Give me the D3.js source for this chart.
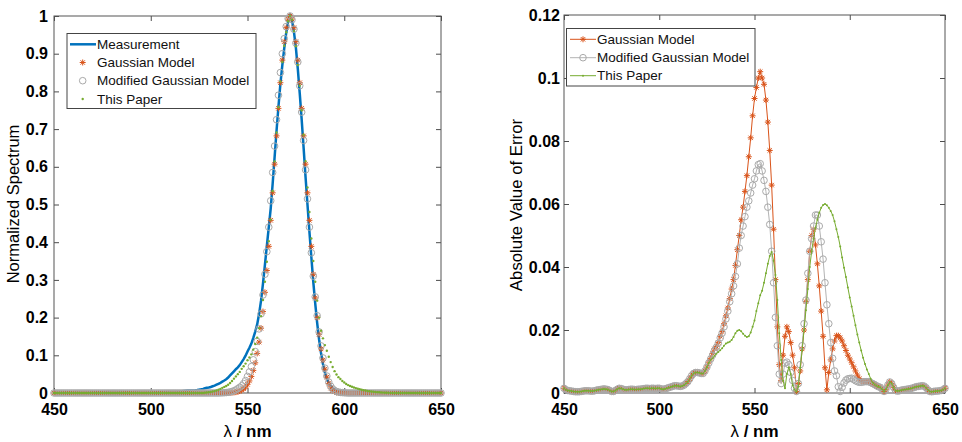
<!DOCTYPE html>
<html lang="en">
<head>
<meta charset="UTF-8">
<title>Spectrum models</title>
<script src="https://cdn.jsdelivr.net/npm/d3@7"></script>
<style>
  * { margin: 0; padding: 0; box-sizing: border-box; }
  body { background: #fff; font-family: Arial, "Liberation Sans", sans-serif; }
  .tick text { font-family: Arial, "Liberation Sans", sans-serif; font-weight: bold; font-size: 16px; fill: #000; }
  .tick line { stroke: #4d4d4d; }
  .legend text { font-size: 13.5px; fill: #111; }
</style>
</head>
<body>
<svg id="chart" width="962" height="442"></svg>
<script>
// sampling grid (nm)
const wavelength = d3.range(450, 651);
const xTicks = [450, 500, 550, 600, 650];
const spectrumTicks = [0, 0.1, 0.2, 0.3, 0.4, 0.5, 0.6, 0.7, 0.8, 0.9, 1];
const errorTicks = [0, 0.02, 0.04, 0.06, 0.08, 0.1, 0.12];

// ---- left panel: normalized spectrum ----
const measurement = [
  0.0015, 0.001, 0.0008, 0.0007, 0.0006, 0.0005, 0.0004, 0.0004, 0.0004, 0.0005,
  0.0006, 0.0007, 0.0007, 0.0007, 0.0006, 0.0006, 0.0007, 0.0009, 0.001, 0.0011,
  0.0012, 0.0013, 0.0012, 0.0011, 0.0008, 0.0005, 0.0005, 0.0008, 0.0012, 0.0015,
  0.0014, 0.0012, 0.001, 0.001, 0.0011, 0.0012, 0.0012, 0.0011, 0.0011, 0.0012,
  0.0012, 0.0013, 0.0014, 0.0015, 0.0015, 0.0014, 0.0015, 0.0015, 0.0014, 0.0015,
  0.0015, 0.0013, 0.0012, 0.0013, 0.0015, 0.0017, 0.0019, 0.0021, 0.0023, 0.0023,
  0.0022, 0.0021, 0.0022, 0.0025, 0.003, 0.0036, 0.0045, 0.0055, 0.0062, 0.0065,
  0.0065, 0.0066, 0.0068, 0.0072, 0.008, 0.009, 0.0098, 0.011, 0.0125, 0.014,
  0.0148, 0.016, 0.018, 0.0195, 0.022, 0.0245, 0.027, 0.03, 0.033, 0.0365,
  0.041, 0.0465, 0.052, 0.0575, 0.063, 0.068, 0.074, 0.082, 0.09, 0.099,
  0.11, 0.12, 0.131, 0.146, 0.163, 0.182, 0.21, 0.245, 0.29, 0.34,
  0.39, 0.44, 0.49, 0.555, 0.625, 0.695, 0.76, 0.82, 0.87, 0.915,
  0.955, 0.985, 1.0, 0.988, 0.958, 0.916, 0.86, 0.795, 0.725, 0.65,
  0.573, 0.5, 0.428, 0.36, 0.295, 0.238, 0.186, 0.142, 0.106, 0.077,
  0.054, 0.038, 0.027, 0.019, 0.013, 0.009, 0.0065, 0.005, 0.0042, 0.0039,
  0.0038, 0.0037, 0.0036, 0.0036, 0.0036, 0.0036, 0.0036, 0.0036, 0.0036, 0.0036,
  0.0036, 0.0033, 0.003, 0.0027, 0.0023, 0.002, 0.0018, 0.0012, 0.0005, 0.0012,
  0.0025, 0.0035, 0.003, 0.0018, 0.0008, 0.0006, 0.0007, 0.0009, 0.001, 0.0011,
  0.0012, 0.0013, 0.0014, 0.0016, 0.0018, 0.002, 0.0021, 0.0022, 0.0023, 0.0022,
  0.0017, 0.001, 0.0005, 0.0004, 0.0005, 0.0006, 0.0006, 0.0007, 0.0008, 0.001,
  0.0015
];
const gaussianModel = [
  0, 0, 0, 0, 0, 0, 0, 0, 0, 0,
  0, 0, 0, 0, 0, 0, 0, 0, 0, 0,
  0, 0, 0, 0, 0, 0, 0, 0, 0, 0,
  0, 0, 0, 0, 0, 0, 0, 0, 0, 0,
  0, 0, 0, 0, 0, 0, 0, 0, 0, 0,
  0, 0, 0, 0, 0, 0, 0, 0, 0, 0,
  0, 0, 0, 0, 0, 0, 0, 0, 0, 0,
  0, 0, 0, 0, 0, 0, 0, 0, 0, 0,
  0, 0, 0, 0, 0, 0, 0, 0, 0, 0,
  0.0003, 0.0006, 0.0009, 0.0014, 0.0022, 0.0034, 0.0051, 0.0076, 0.011, 0.016,
  0.023, 0.032, 0.044, 0.06, 0.08, 0.105, 0.135, 0.172, 0.216, 0.267,
  0.325, 0.389, 0.458, 0.531, 0.607, 0.682, 0.755, 0.823, 0.883, 0.932,
  0.969, 0.992, 1.0, 0.992, 0.969, 0.932, 0.883, 0.823, 0.755, 0.682,
  0.607, 0.531, 0.458, 0.389, 0.315, 0.252, 0.2, 0.155, 0.117, 0.087,
  0.063, 0.042, 0.025, 0.013, 0.0065, 0.003, 0.0015, 0.0008, 0.0004, 0.0002,
  0, 0, 0, 0, 0, 0, 0, 0, 0, 0,
  0, 0, 0, 0, 0, 0, 0, 0, 0, 0,
  0, 0, 0, 0, 0, 0, 0, 0, 0, 0,
  0, 0, 0, 0, 0, 0, 0, 0, 0, 0,
  0, 0, 0, 0, 0, 0, 0, 0, 0, 0,
  0
];
const modifiedGaussianModel = [
  0, 0, 0, 0, 0, 0, 0, 0, 0, 0,
  0, 0, 0, 0, 0, 0, 0, 0, 0, 0,
  0, 0, 0, 0, 0, 0, 0, 0, 0, 0,
  0, 0, 0, 0, 0, 0, 0, 0, 0, 0,
  0, 0, 0, 0, 0, 0, 0, 0, 0, 0,
  0, 0, 0, 0, 0, 0, 0, 0, 0, 0,
  0, 0, 0, 0, 0, 0, 0, 0, 0, 0,
  0, 0, 0, 0, 0, 0, 0, 0, 0, 0,
  0, 0, 0, 0, 0, 0, 0.0003, 0.0005, 0.0008, 0.0012,
  0.0018, 0.0027, 0.004, 0.0058, 0.0082, 0.0115, 0.015, 0.019, 0.025, 0.033,
  0.044, 0.056, 0.07, 0.088, 0.11, 0.137, 0.17, 0.21, 0.26, 0.315,
  0.375, 0.44, 0.51, 0.585, 0.655, 0.725, 0.79, 0.85, 0.9, 0.94,
  0.972, 0.993, 1.0, 0.99, 0.965, 0.928, 0.878, 0.815, 0.745, 0.67,
  0.592, 0.515, 0.44, 0.372, 0.31, 0.255, 0.205, 0.162, 0.125, 0.093,
  0.066, 0.045, 0.029, 0.018, 0.011, 0.0065, 0.004, 0.0025, 0.0015, 0.001,
  0.0006, 0.0003, 0, 0, 0, 0, 0, 0, 0, 0,
  0, 0, 0, 0, 0, 0, 0, 0, 0, 0,
  0, 0, 0, 0, 0, 0, 0, 0, 0, 0,
  0, 0, 0, 0, 0, 0, 0, 0, 0, 0,
  0, 0, 0, 0, 0, 0, 0, 0, 0, 0,
  0
];
const thisPaperModel = [
  0, 0, 0, 0, 0, 0, 0, 0, 0, 0,
  0, 0, 0, 0, 0, 0, 0, 0, 0, 0,
  0, 0, 0, 0, 0, 0, 0, 0, 0, 0,
  0, 0, 0, 0, 0, 0, 0, 0, 0, 0,
  0, 0, 0, 0, 0, 0, 0, 0, 0, 0,
  0, 0, 0, 0, 0, 0, 0, 0, 0, 0,
  0, 0, 0, 0, 0, 0, 0, 0, 0, 0,
  0, 0, 0, 0, 0, 0, 0, 0, 0.0005, 0.0015,
  0.0018, 0.0025, 0.004, 0.005, 0.0068, 0.0087, 0.011, 0.0137, 0.0162, 0.0187,
  0.022, 0.0267, 0.032, 0.038, 0.044, 0.05, 0.056, 0.064, 0.071, 0.078,
  0.087, 0.094, 0.1025, 0.115, 0.13, 0.147, 0.172, 0.204, 0.2465, 0.295,
  0.348, 0.4025, 0.46, 0.536, 0.6145, 0.691, 0.758, 0.826, 0.878, 0.921,
  0.957, 0.986, 1.0, 0.99, 0.96, 0.92, 0.87, 0.815, 0.75, 0.685,
  0.615, 0.545, 0.48, 0.41, 0.35, 0.295, 0.245, 0.2, 0.165, 0.145,
  0.127, 0.112, 0.096, 0.082, 0.069, 0.058, 0.049, 0.042, 0.037, 0.032,
  0.028, 0.024, 0.021, 0.0185, 0.0165, 0.0147, 0.013, 0.0115, 0.01, 0.0087,
  0.0076, 0.0065, 0.0055, 0.0047, 0.004, 0.0033, 0.0027, 0.0022, 0.0018, 0.0014,
  0.0011, 0.0008, 0.0006, 0.0004, 0.0003, 0, 0, 0, 0, 0,
  0, 0, 0, 0, 0, 0, 0, 0, 0, 0,
  0, 0, 0, 0, 0, 0, 0, 0, 0, 0,
  0
];

// ---- right panel: absolute error ----
const errorGaussian = [
  0.0015, 0.001, 0.0008, 0.0007, 0.0006, 0.0005, 0.0004, 0.0004, 0.0004, 0.0005,
  0.0006, 0.0007, 0.0007, 0.0007, 0.0006, 0.0006, 0.0007, 0.0009, 0.001, 0.0011,
  0.0012, 0.0013, 0.0012, 0.0011, 0.0008, 0.0005, 0.0005, 0.0008, 0.0012, 0.0015,
  0.0014, 0.0012, 0.001, 0.001, 0.0011, 0.0012, 0.0012, 0.0011, 0.0011, 0.0012,
  0.0012, 0.0013, 0.0014, 0.0015, 0.0015, 0.0014, 0.0015, 0.0015, 0.0014, 0.0015,
  0.0015, 0.0013, 0.0012, 0.0013, 0.0015, 0.0017, 0.0019, 0.0021, 0.0023, 0.0023,
  0.0022, 0.0021, 0.0022, 0.0025, 0.003, 0.0036, 0.0045, 0.0055, 0.0062, 0.0065,
  0.0065, 0.0064, 0.0062, 0.0062, 0.007, 0.0082, 0.0098, 0.011, 0.0125, 0.014,
  0.0148, 0.016, 0.018, 0.0195, 0.022, 0.0245, 0.027, 0.03, 0.033, 0.036,
  0.0405, 0.0455, 0.05, 0.055, 0.059, 0.064, 0.069, 0.075, 0.081, 0.088,
  0.0935, 0.097, 0.1, 0.102, 0.1, 0.098, 0.093, 0.086, 0.077, 0.066,
  0.052, 0.036, 0.021, 0.009, 0.004, 0.012, 0.018, 0.021, 0.0195, 0.016,
  0.012, 0.008, 0.0005, 0.003, 0.007, 0.014, 0.02, 0.029, 0.036, 0.045,
  0.05, 0.052, 0.047, 0.041, 0.034, 0.026, 0.018, 0.008, 0.001, 0.0065,
  0.0105, 0.014, 0.0165, 0.0182, 0.0182, 0.0175, 0.0165, 0.015, 0.0135, 0.012,
  0.0108, 0.0096, 0.0083, 0.007, 0.0057, 0.0046, 0.0039, 0.0037, 0.0036, 0.0036,
  0.0036, 0.0033, 0.003, 0.0027, 0.0023, 0.002, 0.0018, 0.0012, 0.0005, 0.0012,
  0.0025, 0.0035, 0.003, 0.0018, 0.0008, 0.0006, 0.0007, 0.0009, 0.001, 0.0011,
  0.0012, 0.0013, 0.0014, 0.0016, 0.0018, 0.002, 0.0021, 0.0022, 0.0023, 0.0022,
  0.0017, 0.001, 0.0005, 0.0004, 0.0005, 0.0006, 0.0006, 0.0007, 0.0008, 0.001,
  0.0015
];
const errorModifiedGaussian = [
  0.0015, 0.001, 0.0008, 0.0007, 0.0006, 0.0005, 0.0004, 0.0004, 0.0004, 0.0005,
  0.0006, 0.0007, 0.0007, 0.0007, 0.0006, 0.0006, 0.0007, 0.0009, 0.001, 0.0011,
  0.0012, 0.0013, 0.0012, 0.0011, 0.0008, 0.0005, 0.0005, 0.0008, 0.0012, 0.0015,
  0.0014, 0.0012, 0.001, 0.001, 0.0011, 0.0012, 0.0012, 0.0011, 0.0011, 0.0012,
  0.0012, 0.0013, 0.0014, 0.0015, 0.0015, 0.0014, 0.0015, 0.0015, 0.0014, 0.0015,
  0.0015, 0.0013, 0.0012, 0.0013, 0.0015, 0.0017, 0.0019, 0.0021, 0.0023, 0.0023,
  0.0022, 0.0021, 0.0022, 0.0025, 0.003, 0.0036, 0.0045, 0.0055, 0.0062, 0.0065,
  0.0065, 0.0064, 0.0062, 0.0062, 0.007, 0.0082, 0.0095, 0.0108, 0.012, 0.0135,
  0.0145, 0.0158, 0.0175, 0.019, 0.021, 0.0235, 0.026, 0.029, 0.0315, 0.034,
  0.037, 0.041, 0.046, 0.05, 0.053, 0.056, 0.059, 0.061, 0.0635, 0.066,
  0.068, 0.0705, 0.0725, 0.0728, 0.0705, 0.0675, 0.064, 0.059, 0.0535, 0.045,
  0.035, 0.024, 0.015, 0.006, 0.003, 0.006, 0.0095, 0.0098, 0.009, 0.0065,
  0.004, 0.0015, 0.0005, 0.003, 0.009, 0.015, 0.022, 0.0295, 0.038, 0.045,
  0.049, 0.053, 0.0565, 0.0565, 0.053, 0.048, 0.0425, 0.035, 0.028, 0.022,
  0.016, 0.011, 0.007, 0.0055, 0.002, 0.0005, 0.0018, 0.0032, 0.0041, 0.0045,
  0.0046, 0.0047, 0.0043, 0.0039, 0.0036, 0.0034, 0.0034, 0.0035, 0.0036, 0.0036,
  0.0036, 0.0033, 0.003, 0.0027, 0.0023, 0.002, 0.0018, 0.0012, 0.0005, 0.0012,
  0.0025, 0.0035, 0.003, 0.0018, 0.0008, 0.0006, 0.0007, 0.0009, 0.001, 0.0011,
  0.0012, 0.0013, 0.0014, 0.0016, 0.0018, 0.002, 0.0021, 0.0022, 0.0023, 0.0022,
  0.0017, 0.001, 0.0005, 0.0004, 0.0005, 0.0006, 0.0006, 0.0007, 0.0008, 0.001,
  0.0015
];
const errorThisPaper = [
  0.0015, 0.001, 0.0008, 0.0007, 0.0006, 0.0005, 0.0004, 0.0004, 0.0004, 0.0005,
  0.0006, 0.0007, 0.0007, 0.0007, 0.0006, 0.0006, 0.0007, 0.0009, 0.001, 0.0011,
  0.0012, 0.0013, 0.0012, 0.0011, 0.0008, 0.0005, 0.0005, 0.0008, 0.0012, 0.0015,
  0.0014, 0.0012, 0.001, 0.001, 0.0011, 0.0012, 0.0012, 0.0011, 0.0011, 0.0012,
  0.0012, 0.0013, 0.0014, 0.0015, 0.0015, 0.0014, 0.0015, 0.0015, 0.0014, 0.0015,
  0.0015, 0.0013, 0.0012, 0.0013, 0.0015, 0.0017, 0.0019, 0.0021, 0.0023, 0.0023,
  0.0022, 0.0021, 0.0022, 0.0025, 0.003, 0.0036, 0.0045, 0.0055, 0.0062, 0.0065,
  0.0065, 0.0064, 0.0062, 0.0062, 0.007, 0.0082, 0.0095, 0.0105, 0.011, 0.0118,
  0.0125, 0.013, 0.0136, 0.0142, 0.015, 0.0157, 0.016, 0.0163, 0.0168, 0.0178,
  0.019, 0.0198, 0.02, 0.0196, 0.0188, 0.0182, 0.0178, 0.018, 0.0192, 0.021,
  0.023, 0.026, 0.0285, 0.031, 0.0325, 0.035, 0.038, 0.041, 0.0435, 0.0448,
  0.042, 0.0375, 0.0295, 0.019, 0.0105, 0.004, 0.0015, 0.006, 0.0082, 0.006,
  0.0025, 0.001, 0.0004, 0.002, 0.008, 0.0135, 0.02, 0.0263, 0.033, 0.04,
  0.045, 0.049, 0.0525, 0.055, 0.0572, 0.0588, 0.0597, 0.06, 0.0596, 0.0588,
  0.0578, 0.0565, 0.0545, 0.052, 0.0495, 0.0465, 0.043, 0.0398, 0.0368, 0.0335,
  0.0303, 0.0275, 0.0245, 0.0215, 0.0186, 0.016, 0.0135, 0.0112, 0.0092, 0.0075,
  0.006, 0.0045, 0.0033, 0.0027, 0.0023, 0.002, 0.0018, 0.0012, 0.0005, 0.0012,
  0.0025, 0.0035, 0.003, 0.0018, 0.0008, 0.0006, 0.0007, 0.0009, 0.001, 0.0011,
  0.0012, 0.0013, 0.0014, 0.0016, 0.0018, 0.002, 0.0021, 0.0022, 0.0023, 0.0022,
  0.0017, 0.001, 0.0005, 0.0004, 0.0005, 0.0006, 0.0006, 0.0007, 0.0008, 0.001,
  0.0015
];

const blue = "#0072BD", orange = "#D95319", grey = "#a9a9a9", green = "#77AC30";
const starPath = "M-3,0H3M0,-3V3M-2.2,-2.2L2.2,2.2M-2.2,2.2L2.2,-2.2";

const svg = d3.select("#chart");

function toPoints(values) {
  return wavelength.map((w, i) => ({ w, v: values[i] }));
}

// axes on all four sides, ticks pointing inward, labels only bottom/left
function drawFrame(x, y, yTicks, box, padLeft) {
  const g = svg.append("g");
  g.append("g")
    .attr("transform", `translate(0,${box.bottom})`)
    .call(d3.axisBottom(x).tickValues(xTicks).tickSize(-5).tickSizeOuter(0)
      .tickPadding(10.5).tickFormat(String));
  g.append("g")
    .attr("transform", `translate(0,${box.top})`)
    .call(d3.axisTop(x).tickValues(xTicks).tickSize(-5).tickSizeOuter(0).tickFormat(""));
  g.append("g")
    .attr("transform", `translate(${box.left},0)`)
    .call(d3.axisLeft(y).tickValues(yTicks).tickSize(-5).tickSizeOuter(0)
      .tickPadding(padLeft).tickFormat(String));
  g.append("g")
    .attr("transform", `translate(${box.right},0)`)
    .call(d3.axisRight(y).tickValues(yTicks).tickSize(-5).tickSizeOuter(0).tickFormat(""));
  g.selectAll(".domain").remove();
  g.append("rect")
    .attr("x", box.left).attr("y", box.top)
    .attr("width", box.right - box.left).attr("height", box.bottom - box.top)
    .attr("fill", "none").attr("stroke", "#555").attr("stroke-width", 1);
  return g;
}

function stars(g, x, y, values) {
  g.append("g").selectAll("path")
    .data(toPoints(values)).enter().append("path")
    .attr("d", starPath)
    .attr("transform", d => `translate(${x(d.w)},${y(d.v)})`)
    .attr("stroke", orange).attr("stroke-width", 1).attr("fill", "none");
}

function circles(g, x, y, values) {
  g.append("g").selectAll("circle")
    .data(toPoints(values)).enter().append("circle")
    .attr("cx", d => x(d.w)).attr("cy", d => y(d.v)).attr("r", 3.3)
    .attr("fill", "none").attr("stroke", grey).attr("stroke-width", 1);
}

function dots(g, x, y, values, r) {
  g.append("g").selectAll("circle")
    .data(toPoints(values)).enter().append("circle")
    .attr("cx", d => x(d.w)).attr("cy", d => y(d.v)).attr("r", r)
    .attr("fill", green);
}

function line(g, x, y, values, color, width) {
  g.append("path")
    .datum(toPoints(values))
    .attr("d", d3.line().x(d => x(d.w)).y(d => y(d.v)))
    .attr("fill", "none").attr("stroke", color).attr("stroke-width", width);
}

function xLabel(cx) {
  svg.append("text")
    .attr("x", cx).attr("y", 437)
    .attr("text-anchor", "middle")
    .style("font-size", "17px")
    .call(t => {
      t.append("tspan").text("λ");
      t.append("tspan").style("font-weight", "bold").text(" / nm");
    });
}

// ================= left panel =================
const boxL = { left: 54, right: 441, top: 16, bottom: 393 };
const xL = d3.scaleLinear().domain([450, 650]).range([boxL.left, boxL.right]);
const yL = d3.scaleLinear().domain([0, 1]).range([boxL.bottom, boxL.top]);

const gL = drawFrame(xL, yL, spectrumTicks, boxL, 6);

line(gL, xL, yL, measurement, blue, 2.5);
stars(gL, xL, yL, gaussianModel);
circles(gL, xL, yL, modifiedGaussianModel);
dots(gL, xL, yL, thisPaperModel, 1.2);

svg.append("text")
  .attr("transform", "translate(18.5,204) rotate(-90)")
  .attr("text-anchor", "middle")
  .style("font-size", "16.5px")
  .text("Normalized Spectrum");
xLabel((boxL.left + boxL.right) / 2);

const legL = svg.append("g").attr("class", "legend");
legL.append("rect").attr("x", 67).attr("y", 33.5).attr("width", 189).attr("height", 75)
  .attr("fill", "#fff").attr("stroke", "#444").attr("stroke-width", 1);
legL.append("line").attr("x1", 70).attr("x2", 96).attr("y1", 44.3).attr("y2", 44.3)
  .attr("stroke", blue).attr("stroke-width", 2.5);
legL.append("path").attr("d", starPath).attr("transform", "translate(82.7,62.5)")
  .attr("stroke", orange).attr("fill", "none");
legL.append("circle").attr("cx", 82.7).attr("cy", 80.7).attr("r", 3.3)
  .attr("fill", "none").attr("stroke", grey);
legL.append("circle").attr("cx", 82.7).attr("cy", 99).attr("r", 1.2).attr("fill", green);
["Measurement", "Gaussian Model", "Modified Gaussian Model", "This Paper"].forEach((s, i) => {
  legL.append("text").attr("x", 97).attr("y", [44.3, 62.5, 80.7, 99][i]).attr("dy", "0.35em").text(s);
});

// ================= right panel =================
const boxR = { left: 564, right: 945, top: 15, bottom: 393 };
const xR = d3.scaleLinear().domain([450, 650]).range([boxR.left, boxR.right]);
const yR = d3.scaleLinear().domain([0, 0.12]).range([boxR.bottom, boxR.top]);

const gR = drawFrame(xR, yR, errorTicks, boxR, 4);

line(gR, xR, yR, errorGaussian, orange, 1);
stars(gR, xR, yR, errorGaussian);
line(gR, xR, yR, errorModifiedGaussian, "#b3b3b3", 1);
circles(gR, xR, yR, errorModifiedGaussian);
line(gR, xR, yR, errorThisPaper, green, 1);
dots(gR, xR, yR, errorThisPaper, 1);

svg.append("text")
  .attr("transform", "translate(522,205) rotate(-90)")
  .attr("text-anchor", "middle")
  .style("font-size", "16.8px")
  .text("Absolute Value of Error");
xLabel((boxR.left + boxR.right) / 2);

const legR = svg.append("g").attr("class", "legend");
legR.append("rect").attr("x", 566.5).attr("y", 28.5).attr("width", 188.5).attr("height", 57.5)
  .attr("fill", "#fff").attr("stroke", "#444").attr("stroke-width", 1);
const legRows = [
  { label: "Gaussian Model", y: 39.3, color: orange },
  { label: "Modified Gaussian Model", y: 57.7, color: "#b3b3b3" },
  { label: "This Paper", y: 75.7, color: green }
];
legRows.forEach((r, i) => {
  legR.append("line").attr("x1", 570).attr("x2", 596).attr("y1", r.y).attr("y2", r.y)
    .attr("stroke", r.color).attr("stroke-width", 1);
  if (i === 0) legR.append("path").attr("d", starPath).attr("transform", `translate(583,${r.y})`)
    .attr("stroke", orange).attr("fill", "none");
  if (i === 1) legR.append("circle").attr("cx", 583).attr("cy", r.y).attr("r", 3.3)
    .attr("fill", "none").attr("stroke", grey);
  if (i === 2) legR.append("circle").attr("cx", 583).attr("cy", r.y).attr("r", 1).attr("fill", green);
  legR.append("text").attr("x", 597).attr("y", r.y).attr("dy", "0.35em").text(r.label);
});
</script>
</body>
</html>
